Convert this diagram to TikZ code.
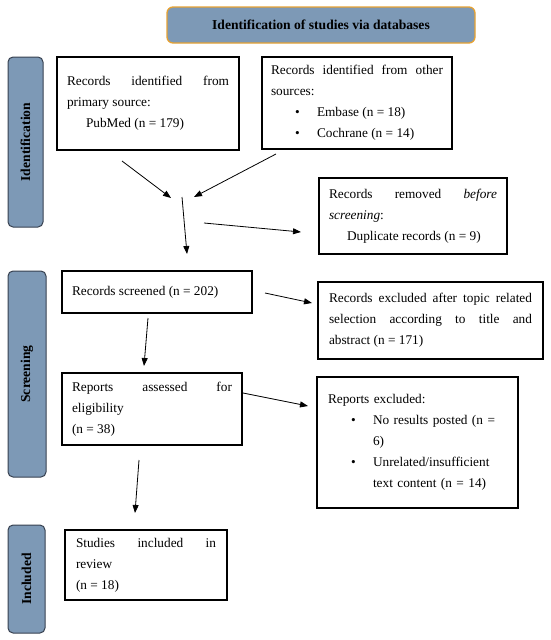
\documentclass[tikz,border=0pt]{standalone}
\usepackage{fontspec}
\setmainfont{Liberation Serif}
\usetikzlibrary{arrows.meta}
\definecolor{sideblue}{RGB}{125,153,182}
\definecolor{sideedge}{RGB}{55,65,80}
\definecolor{titleorange}{RGB}{230,162,50}
\tikzset{
  txt/.style={font=\fontsize{13.3}{21}\selectfont},
  flowbox/.style={draw=black, line width=1.3pt, fill=white, inner ysep=0pt, align=justify, txt},
  sidelabel/.style={draw=sideedge, line width=1pt, fill=sideblue, rounded corners=5pt, inner sep=0pt},
  sidetext/.style={rotate=90, font=\fontsize{13.6}{15}\selectfont\bfseries},
  titlebox/.style={draw=titleorange, line width=1.3pt, fill=sideblue, rounded corners=6pt, inner sep=0pt, font=\fontsize{13.6}{15}\selectfont\bfseries},
  flowarrow/.style={line width=0.8pt, -{Triangle[length=8pt,width=6pt]}}
}
\newcommand{\bitem}[3]{\hspace*{#1}\makebox[#2][l]{\textbullet}#3}
\begin{document}
\begin{tikzpicture}[x=1pt,y=-1pt]
\useasboundingbox (0,0) rectangle (550,640);

% title
\node[titlebox, minimum width=308pt, minimum height=36pt] (title) at (321,25) {Identification of studies via databases};

% side labels
\node[sidelabel, minimum width=35pt, minimum height=170pt] (ident) at (25.5,142) {};
\node[sidetext] (identtxt) at (ident.center) {Identification};
\node[sidelabel, minimum width=38pt, minimum height=206pt] (screen) at (27,374) {};
\node[sidetext] (screentxt) at (screen.center) {Screening};
\node[sidelabel, minimum width=37pt, minimum height=108pt] (incl) at (26.5,579) {};
\node[sidetext] (incltxt) at (incl.center) {Included};

% boxes
\node[flowbox, inner xsep=10pt, text width=162pt, minimum width=182pt, minimum height=93pt] (prim) at (148,103.5)
  {Records identified from\linebreak primary source:\\\hspace*{19pt}PubMed (n = 179)};
\node[flowbox, inner xsep=9pt, text width=172pt, minimum width=190pt, minimum height=92pt] (other) at (357,103)
  {Records identified from other\linebreak sources:\\\bitem{24pt}{22pt}{Embase (n = 18)}\\\bitem{24pt}{22pt}{Cochrane (n = 14)}};
\node[flowbox, inner xsep=10pt, text width=168pt, minimum width=188pt, minimum height=76pt] (removed) at (413,216)
  {Records removed \emph{before}\linebreak \emph{screening}:\\\hspace*{18pt}Duplicate records (n = 9)};
\node[flowbox, inner xsep=10pt, text width=170pt, minimum width=190pt, minimum height=42pt] (screened) at (157,292)
  {Records screened (n = 202)};
\node[flowbox, inner xsep=11pt, text width=203pt, minimum width=225pt, minimum height=77pt] (excl) at (430.5,320.5)
  {Records excluded after topic related\linebreak selection according to title and\linebreak abstract (n = 171)};
\node[flowbox, inner xsep=10pt, text width=160pt, minimum width=180pt, minimum height=72pt] (assessed) at (152,409)
  {Reports assessed for\linebreak eligibility\\(n = 38)};
\node[flowbox, inner xsep=11pt, text width=179pt, minimum width=201pt, minimum height=131pt, align=left] (repexcl) at (417.5,442.5)
  {Reports excluded:\\\bitem{23pt}{22pt}{No results posted (n =}\\\hspace*{45pt}6)\\\bitem{23pt}{22pt}{Unrelated/insufficient}\\\hspace*{45pt}text content (n = 14)};
\node[flowbox, inner xsep=11pt, text width=140pt, minimum width=162pt, minimum height=70pt] (studies) at (146,565)
  {Studies included in\linebreak review\\(n = 18)};

% arrow end points
\coordinate (a1s) at (122,161); \coordinate (a1e) at (171,198);
\coordinate (a2s) at (276,154); \coordinate (a2e) at (194,197);
\coordinate (a3s) at (182,197); \coordinate (a3e) at (187,254);
\coordinate (a4s) at (204,223); \coordinate (a4e) at (301,232);
\coordinate (a5s) at (265,293); \coordinate (a5e) at (312,303);
\coordinate (a6s) at (148,318); \coordinate (a6e) at (144,366);
\coordinate (a7s) at (243,393); \coordinate (a7e) at (308,406);
\coordinate (a8s) at (139,460); \coordinate (a8e) at (135,513);

\draw[flowarrow] (a1s) -- (a1e);
\draw[flowarrow] (a2s) -- (a2e);
\draw[flowarrow] (a3s) -- (a3e);
\draw[flowarrow] (a4s) -- (a4e);
\draw[flowarrow] (a5s) -- (a5e);
\draw[flowarrow] (a6s) -- (a6e);
\draw[flowarrow] (a7s) -- (a7e);
\draw[flowarrow] (a8s) -- (a8e);
\end{tikzpicture}
\end{document}
